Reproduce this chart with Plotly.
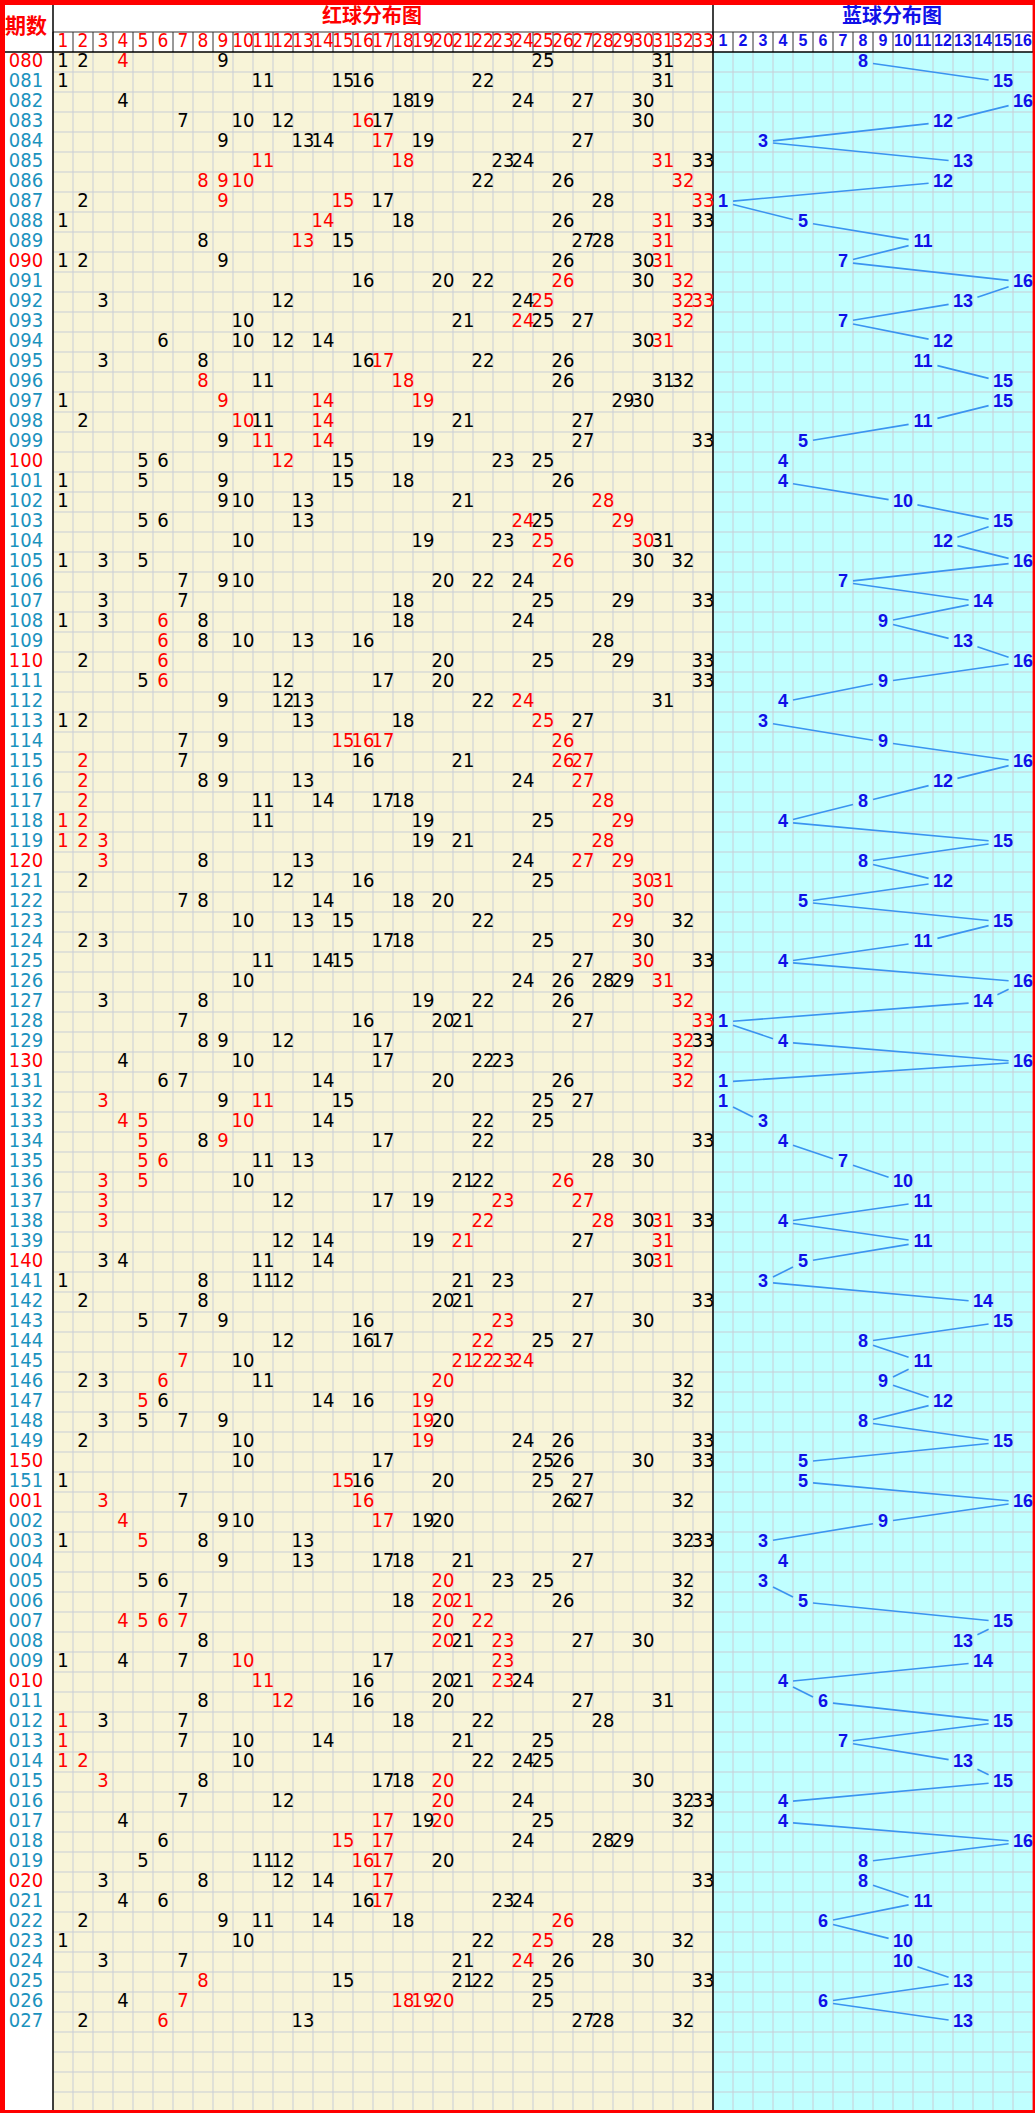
import plotly.graph_objects as go

periods = ["%03d" % i for i in range(80, 152)] + ["%03d" % i for i in range(1, 28)]
red_label_periods = ["080", "090", "100", "110", "120", "130", "140", "150", "001", "010", "020"]

red_balls = [
    [1,2,4,9,25,31],[1,11,15,16,22,31],[4,18,19,24,27,30],[7,10,12,16,17,30],[9,13,14,17,19,27],
    [11,18,23,24,31,33],[8,9,10,22,26,32],[2,9,15,17,28,33],[1,14,18,26,31,33],[8,13,15,27,28,31],
    [1,2,9,26,30,31],[16,20,22,26,30,32],[3,12,24,25,32,33],[10,21,24,25,27,32],[6,10,12,14,30,31],
    [3,8,16,17,22,26],[8,11,18,26,31,32],[1,9,14,19,29,30],[2,10,11,14,21,27],[9,11,14,19,27,33],
    [5,6,12,15,23,25],[1,5,9,15,18,26],[1,9,10,13,21,28],[5,6,13,24,25,29],[10,19,23,25,30,31],
    [1,3,5,26,30,32],[7,9,10,20,22,24],[3,7,18,25,29,33],[1,3,6,8,18,24],[6,8,10,13,16,28],
    [2,6,20,25,29,33],[5,6,12,17,20,33],[9,12,13,22,24,31],[1,2,13,18,25,27],[7,9,15,16,17,26],
    [2,7,16,21,26,27],[2,8,9,13,24,27],[2,11,14,17,18,28],[1,2,11,19,25,29],[1,2,3,19,21,28],
    [3,8,13,24,27,29],[2,12,16,25,30,31],[7,8,14,18,20,30],[10,13,15,22,29,32],[2,3,17,18,25,30],
    [11,14,15,27,30,33],[10,24,26,28,29,31],[3,8,19,22,26,32],[7,16,20,21,27,33],[8,9,12,17,32,33],
    [4,10,17,22,23,32],[6,7,14,20,26,32],[3,9,11,15,25,27],[4,5,10,14,22,25],[5,8,9,17,22,33],
    [5,6,11,13,28,30],[3,5,10,21,22,26],[3,12,17,19,23,27],[3,22,28,30,31,33],[12,14,19,21,27,31],
    [3,4,11,14,30,31],[1,8,11,12,21,23],[2,8,20,21,27,33],[5,7,9,16,23,30],[12,16,17,22,25,27],
    [7,10,21,22,23,24],[2,3,6,11,20,32],[5,6,14,16,19,32],[3,5,7,9,19,20],[2,10,19,24,26,33],
    [10,17,25,26,30,33],[1,15,16,20,25,27],[3,7,16,26,27,32],[4,9,10,17,19,20],[1,5,8,13,32,33],
    [9,13,17,18,21,27],[5,6,20,23,25,32],[7,18,20,21,26,32],[4,5,6,7,20,22],[8,20,21,23,27,30],
    [1,4,7,10,17,23],[11,16,20,21,23,24],[8,12,16,20,27,31],[1,3,7,18,22,28],[1,7,10,14,21,25],
    [1,2,10,22,24,25],[3,8,17,18,20,30],[7,12,20,24,32,33],[4,17,19,20,25,32],[6,15,17,24,28,29],
    [5,11,12,16,17,20],[3,8,12,14,17,33],[4,6,16,17,23,24],[2,9,11,14,18,26],[1,10,22,25,28,32],
    [3,7,21,24,26,30],[8,15,21,22,25,33],[4,7,18,19,20,25],[2,6,13,27,28,32],
]

red_hot = [
    [4],[],[],[16],[17],[11,18,31],[8,9,10,32],[9,15,33],[14,31],[13,31],
    [31],[26,32],[25,32,33],[24,32],[31],[17],[8,18],[9,14,19],[10,14],[11,14],
    [12],[],[28],[24,29],[25,30],[26],[],[],[6],[6],
    [6],[6],[24],[25],[15,16,17,26],[2,26,27],[2,27],[2,28],[1,2,29],[1,2,3,28],
    [3,27,29],[30,31],[30],[29],[],[30],[31],[32],[33],[32],
    [32],[32],[3,11],[4,5,10],[5,9],[5,6],[3,5,26],[3,23,27],[3,22,28,31],[21,31],
    [31],[],[],[23],[22],[7,21,22,23,24],[6,20],[5,19],[19],[19],
    [],[15],[3,16],[4,17],[5],[],[20],[20,21],[4,5,6,7,20,22],[20,23],
    [10,23],[11,23],[12],[1],[1],[1,2],[3,20],[20],[17,20],[15,17],
    [16,17],[17],[17],[26],[25],[24],[8],[7,18,19,20],[6],
]

blue_ball = [
    8,15,16,12,3,13,12,1,5,11,7,16,13,7,12,11,15,15,11,5,
    4,4,10,15,12,16,7,14,9,13,16,9,4,3,9,16,12,8,4,15,
    8,12,5,15,11,4,16,14,1,4,16,1,1,3,4,7,10,11,4,11,
    5,3,14,15,8,11,9,12,8,15,5,5,16,9,3,4,3,5,15,13,
    14,4,6,15,7,13,15,4,4,16,8,8,11,6,10,10,13,6,13,
]

red_cols = list(range(1, 34))
blue_cols = list(range(1, 17))

# ---------- geometry (1 unit = 20px) ----------
W, H = 1035, 2113
X0, Y0 = -2.15, -3.1
X1, Y1 = X0 + W / 20, Y0 + H / 20
NR = len(periods)
NB = NR + 4  # 4 empty rows
RED_BG = "#F8F4D8"
BLUE_BG = "#C0FFFF"
GRID = "#C8CDD6"

shapes = []
def rect(x0, y0, x1, y1, fill, layer="below"):
    shapes.append(dict(type="rect", xref="x", yref="y", x0=x0, y0=y0, x1=x1, y1=y1,
                       fillcolor=fill, line=dict(width=0), layer=layer))

def seg(x0, y0, x1, y1, color, width=1, layer="below"):
    shapes.append(dict(type="line", xref="x", yref="y", x0=x0, y0=y0, x1=x1, y1=y1,
                       line=dict(color=color, width=width), layer=layer))

rect(X0, Y0, X1, Y1, "white")
rect(0.5, -0.5, 33.5, NB - 0.5, RED_BG)
rect(33.5, -0.5, 49.5, NB - 0.5, BLUE_BG)
for k in range(1, 49):
    seg(0.5 + k, -0.5, 0.5 + k, NB - 0.5, GRID)
for k in range(1, NB):
    seg(0.5, -0.5 + k, 49.5, -0.5 + k, GRID)
for k in range(0, 50):
    seg(0.5 + k, -1.5, 0.5 + k, -0.5, "#333333")
seg(0.5, -1.5, 49.5, -1.5, "#333333")
seg(X0, -0.5, 49.5, -0.5, "black", 1.5)
seg(0.5, Y0, 0.5, NB - 0.5, "black", 1.5)
seg(33.5, Y0, 33.5, NB - 0.5, "black", 1.5)
# outer red frame
rect(X0, Y0, X0 + 0.25, Y1, "red", layer="above")
rect(X0, Y0, X1, Y0 + 0.25, "red", layer="above")
rect(X1 - 0.12, Y0, X1, Y1, "red", layer="above")
rect(X0, Y1 - 0.15, X1, Y1, "red", layer="above")

fig = go.Figure()

# blue trend line (connect when difference >= 2)
lx, ly = [], []
for i in range(NR - 1):
    a, b = blue_ball[i], blue_ball[i + 1]
    if abs(a - b) < 2:
        continue
    xa, xb = 33 + a, 33 + b
    dx = xb - xa
    ha = (0.6 if a >= 10 else 0.38) + 0.12
    hb = (0.6 if b >= 10 else 0.38) + 0.12
    ta = ha / abs(dx)
    tb = hb / abs(dx)
    lx += [xa + dx * ta, xb - dx * tb, None]
    ly += [i + ta, i + 1 - tb, None]
fig.add_trace(go.Scatter(x=lx, y=ly, mode="lines", line=dict(color="#3A94F0", width=1.6),
                         hoverinfo="skip"))

# red ball numbers
bx, by, bt, rx, ry, rt = [], [], [], [], [], []
for i, row in enumerate(red_balls):
    for n in row:
        if n in red_hot[i]:
            rx.append(n); ry.append(i); rt.append(str(n))
        else:
            bx.append(n); by.append(i); bt.append(str(n))
cell_font = "Liberation Sans Narrow, Arial Narrow, DejaVu Sans Condensed, sans-serif"
fig.add_trace(go.Scatter(x=bx, y=by, text=bt, mode="text",
                         textfont=dict(family=cell_font, size=20, color="black")))
fig.add_trace(go.Scatter(x=rx, y=ry, text=rt, mode="text",
                         textfont=dict(family=cell_font, size=20, color="red")))

# blue ball numbers
fig.add_trace(go.Scatter(x=[33 + b for b in blue_ball], y=list(range(NR)),
                         text=[str(b) for b in blue_ball], mode="text",
                         textfont=dict(family="Liberation Sans, Arial, sans-serif", size=18,
                                       color="#1010E8", weight="bold")))

# period labels
fig.add_trace(go.Scatter(x=[-0.85] * NR, y=list(range(NR)), text=periods, mode="text",
                         textfont=dict(family=cell_font, size=20,
                                       color=["red" if p in red_label_periods else "#1B93BE"
                                              for p in periods])))

# header numbers
fig.add_trace(go.Scatter(x=red_cols, y=[-1] * 33, text=[str(c) for c in red_cols], mode="text",
                         textfont=dict(family=cell_font, size=19, color="red")))
fig.add_trace(go.Scatter(x=[33 + c for c in blue_cols], y=[-1] * 16,
                         text=[str(c) for c in blue_cols], mode="text",
                         textfont=dict(family="Liberation Sans, Arial, sans-serif", size=16,
                                       color="#1010E8", weight="bold")))

fig.add_trace(go.Scatter(x=[16.45, 42.45, -0.85], y=[-2.2, -2.2, -1.7],
                         text=["红球分布图", "蓝球分布图", "期数"], mode="text",
                         textfont=dict(family="Noto Sans CJK SC", size=[20, 20, 21],
                                       color=["red", "#1010E8", "red"], weight="bold")))

fig.update_layout(
    width=W, height=H, margin=dict(l=0, r=0, t=0, b=0),
    paper_bgcolor="white", plot_bgcolor="white", showlegend=False, shapes=shapes,
    xaxis=dict(range=[X0, X1], visible=False, fixedrange=True),
    yaxis=dict(range=[Y1, Y0], visible=False, fixedrange=True),
)
fig.write_html("out.html", config={"displayModeBar": False},
               post_script="document.body.style.margin='0';document.body.style.overflow='hidden';")
